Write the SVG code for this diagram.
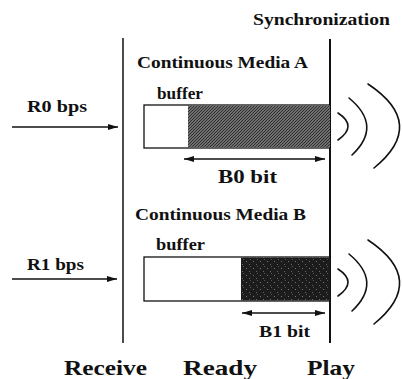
<svg xmlns="http://www.w3.org/2000/svg" width="402" height="379" viewBox="0 0 402 379">
  <style>
    .t { font-family: "Liberation Serif", "Times New Roman", serif; font-weight: bold; fill: #111; }
    .line { stroke: #111; fill: none; }
    .arc { stroke: #111; fill: none; stroke-width: 1.6; stroke-linecap: round; }
    .box { fill: #fff; stroke: #111; stroke-width: 1.3; }
  </style>
  <defs>
    <pattern id="hatchA" width="3" height="3" patternUnits="userSpaceOnUse">
      <rect width="3" height="3" fill="#8a8a8a"/>
      <path d="M0,3 L3,0 M-1,1 L1,-1 M2,4 L4,2" stroke="#2a2a2a" stroke-width="1.1"/>
    </pattern>
    <pattern id="speckB" width="7" height="7" patternUnits="userSpaceOnUse">
      <rect width="7" height="7" fill="#1c1c1c"/>
      <rect x="1" y="2" width="1" height="1" fill="#777"/>
      <rect x="4" y="5" width="1" height="1" fill="#666"/>
      <rect x="5" y="0" width="1" height="1" fill="#555"/>
    </pattern>
    <marker id="ah" viewBox="0 0 10 6" refX="10" refY="3" markerWidth="10" markerHeight="6" markerUnits="userSpaceOnUse" orient="auto-start-reverse">
      <path d="M0,0 L10,3 L0,6 Z" fill="#111"/>
    </marker>
  </defs>

  <g id="stage-lines">
    <line class="line" x1="123" y1="38" x2="123" y2="343" stroke-width="1.5"/>
    <line class="line" x1="330" y1="39" x2="330" y2="343" stroke-width="2"/>
  </g>

  <g id="sync-label">
    <text class="t" x="253" y="25" font-size="16" textLength="137" lengthAdjust="spacingAndGlyphs">Synchronization</text>
  </g>

  <g id="media-a">
    <text class="t" x="137" y="68" font-size="17" textLength="171" lengthAdjust="spacingAndGlyphs">Continuous Media A</text>
    <text class="t" x="157" y="99" font-size="17" textLength="46" lengthAdjust="spacingAndGlyphs">buffer</text>
    <rect class="box" x="144" y="105" width="186" height="43"/>
    <rect x="188" y="105.6" width="142" height="41.8" fill="url(#hatchA)"/>
    <text class="t" x="218" y="183" font-size="18" textLength="59" lengthAdjust="spacingAndGlyphs">B0 bit</text>
  </g>

  <g id="media-b">
    <text class="t" x="135" y="220" font-size="17" textLength="171" lengthAdjust="spacingAndGlyphs">Continuous Media B</text>
    <text class="t" x="156" y="250" font-size="17" textLength="49" lengthAdjust="spacingAndGlyphs">buffer</text>
    <rect class="box" x="144" y="257" width="186" height="44"/>
    <rect x="241" y="257.6" width="89" height="42.8" fill="url(#speckB)"/>
    <text class="t" x="259" y="337" font-size="17" textLength="51" lengthAdjust="spacingAndGlyphs">B1 bit</text>
  </g>

  <g id="input-r0">
    <text class="t" x="27" y="112" font-size="17" textLength="60" lengthAdjust="spacingAndGlyphs">R0 bps</text>
  </g>
  <g id="input-r1">
    <text class="t" x="27" y="270" font-size="17" textLength="57" lengthAdjust="spacingAndGlyphs">R1 bps</text>
  </g>

  <g id="sound-a">
    <path class="arc" d="M338,113 Q358,126 338,140"/>
    <path class="arc" d="M349,98 Q383,126 352,155"/>
    <path class="arc" d="M368,84 Q428,124 374,168"/>
  </g>
  <g id="sound-b" transform="translate(0,156)">
    <path class="arc" d="M338,113 Q358,126 338,140"/>
    <path class="arc" d="M349,98 Q383,126 352,155"/>
    <path class="arc" d="M368,84 Q428,124 374,168"/>
  </g>

  <g id="stage-labels">
    <text class="t" x="64" y="375" font-size="22" textLength="83" lengthAdjust="spacingAndGlyphs">Receive</text>
    <text class="t" x="183" y="375" font-size="22" textLength="74" lengthAdjust="spacingAndGlyphs">Ready</text>
    <text class="t" x="307" y="375" font-size="22" textLength="48" lengthAdjust="spacingAndGlyphs">Play</text>
  </g>

  <g id="connectors">
    <line class="line" x1="12" y1="127" x2="118" y2="127" stroke-width="1.5" marker-end="url(#ah)"/>
    <line class="line" x1="12" y1="279" x2="117" y2="279" stroke-width="1.5" marker-end="url(#ah)"/>
    <line class="line" x1="184" y1="159" x2="325" y2="159" stroke-width="1.3" marker-start="url(#ah)" marker-end="url(#ah)"/>
    <line class="line" x1="242" y1="313" x2="325" y2="313" stroke-width="1.3" marker-start="url(#ah)" marker-end="url(#ah)"/>
  </g>
</svg>
